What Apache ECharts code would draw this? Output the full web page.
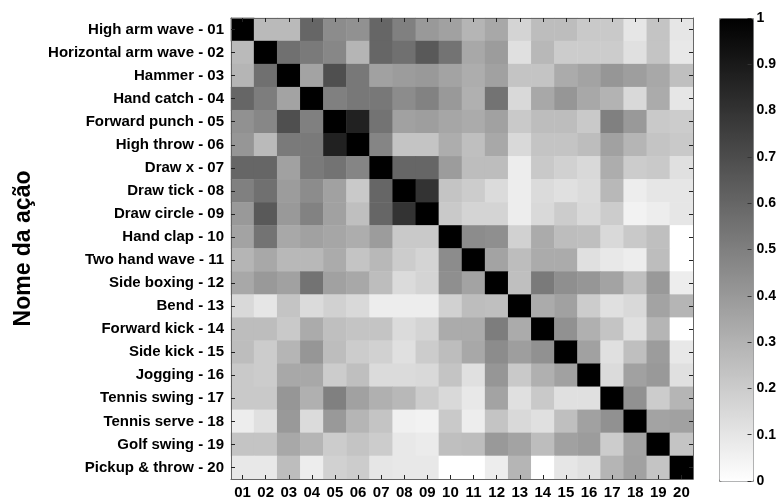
<!DOCTYPE html>
<html>
<head>
<meta charset="utf-8">
<script src="https://cdn.jsdelivr.net/npm/echarts@6/dist/echarts.min.js"></script>
<style>
  html, body { margin: 0; padding: 0; background: #fff; }
  #chart { width: 779px; height: 500px; }
</style>
</head>
<body>
<div id="chart"></div>
<script>
// Action names (rows, top to bottom) and column ids
const actionNames = [
  'High arm wave - 01', 'Horizontal arm wave - 02', 'Hammer - 03', 'Hand catch - 04',
  'Forward punch - 05', 'High throw - 06', 'Draw x - 07', 'Draw tick - 08',
  'Draw circle - 09', 'Hand clap - 10', 'Two hand wave - 11', 'Side boxing - 12',
  'Bend - 13', 'Forward kick - 14', 'Side kick - 15', 'Jogging - 16',
  'Tennis swing - 17', 'Tennis serve - 18', 'Golf swing - 19', 'Pickup & throw - 20'
];
const columnIds = ['01','02','03','04','05','06','07','08','09','10',
                   '11','12','13','14','15','16','17','18','19','20'];

// Similarity between actions, one row per action
const similarity = [
  [1.00, 0.27, 0.27, 0.60, 0.45, 0.43, 0.60, 0.50, 0.40, 0.37, 0.29, 0.34, 0.17, 0.26, 0.26, 0.21, 0.21, 0.10, 0.23, 0.10],
  [0.27, 1.00, 0.56, 0.52, 0.47, 0.29, 0.60, 0.56, 0.65, 0.55, 0.34, 0.39, 0.12, 0.28, 0.20, 0.20, 0.20, 0.12, 0.23, 0.09],
  [0.29, 0.56, 1.00, 0.36, 0.69, 0.53, 0.37, 0.39, 0.40, 0.36, 0.32, 0.37, 0.23, 0.23, 0.33, 0.36, 0.41, 0.38, 0.34, 0.25],
  [0.60, 0.51, 0.36, 1.00, 0.50, 0.53, 0.53, 0.45, 0.49, 0.40, 0.31, 0.55, 0.15, 0.34, 0.41, 0.34, 0.30, 0.15, 0.33, 0.10],
  [0.43, 0.47, 0.69, 0.50, 1.00, 0.87, 0.55, 0.37, 0.38, 0.35, 0.33, 0.37, 0.21, 0.26, 0.26, 0.21, 0.50, 0.40, 0.21, 0.20],
  [0.41, 0.27, 0.52, 0.52, 0.87, 1.00, 0.48, 0.23, 0.23, 0.32, 0.25, 0.34, 0.15, 0.23, 0.23, 0.26, 0.37, 0.29, 0.23, 0.21],
  [0.60, 0.60, 0.37, 0.52, 0.55, 0.48, 1.00, 0.60, 0.60, 0.39, 0.26, 0.26, 0.07, 0.21, 0.18, 0.15, 0.32, 0.20, 0.21, 0.12],
  [0.50, 0.56, 0.39, 0.45, 0.37, 0.21, 0.60, 1.00, 0.80, 0.23, 0.20, 0.14, 0.07, 0.14, 0.12, 0.14, 0.28, 0.07, 0.10, 0.10],
  [0.40, 0.65, 0.40, 0.49, 0.37, 0.25, 0.60, 0.80, 1.00, 0.21, 0.17, 0.17, 0.07, 0.15, 0.20, 0.15, 0.20, 0.05, 0.07, 0.10],
  [0.36, 0.55, 0.34, 0.37, 0.35, 0.32, 0.39, 0.21, 0.21, 1.00, 0.45, 0.44, 0.18, 0.33, 0.26, 0.25, 0.15, 0.21, 0.25, 0.00],
  [0.29, 0.34, 0.28, 0.28, 0.33, 0.23, 0.28, 0.20, 0.17, 0.45, 1.00, 0.36, 0.26, 0.33, 0.33, 0.12, 0.09, 0.07, 0.26, 0.00],
  [0.34, 0.40, 0.37, 0.55, 0.37, 0.34, 0.26, 0.14, 0.17, 0.44, 0.36, 1.00, 0.25, 0.52, 0.44, 0.41, 0.36, 0.25, 0.40, 0.07],
  [0.15, 0.10, 0.23, 0.14, 0.18, 0.15, 0.07, 0.07, 0.07, 0.18, 0.26, 0.25, 1.00, 0.33, 0.37, 0.20, 0.12, 0.15, 0.36, 0.29],
  [0.26, 0.26, 0.21, 0.33, 0.25, 0.23, 0.23, 0.14, 0.17, 0.33, 0.33, 0.51, 0.33, 1.00, 0.43, 0.31, 0.23, 0.12, 0.29, 0.00],
  [0.26, 0.20, 0.29, 0.41, 0.26, 0.20, 0.18, 0.12, 0.20, 0.26, 0.34, 0.45, 0.38, 0.43, 1.00, 0.37, 0.12, 0.25, 0.39, 0.09],
  [0.21, 0.20, 0.34, 0.34, 0.20, 0.25, 0.14, 0.14, 0.15, 0.23, 0.12, 0.41, 0.21, 0.31, 0.37, 1.00, 0.14, 0.37, 0.40, 0.12],
  [0.21, 0.21, 0.41, 0.31, 0.50, 0.37, 0.31, 0.28, 0.20, 0.15, 0.09, 0.36, 0.12, 0.21, 0.12, 0.12, 1.00, 0.43, 0.20, 0.29],
  [0.07, 0.12, 0.40, 0.14, 0.40, 0.29, 0.23, 0.06, 0.05, 0.21, 0.07, 0.23, 0.15, 0.12, 0.25, 0.37, 0.43, 1.00, 0.36, 0.37],
  [0.23, 0.23, 0.34, 0.29, 0.20, 0.23, 0.20, 0.09, 0.08, 0.25, 0.26, 0.40, 0.36, 0.26, 0.37, 0.39, 0.20, 0.36, 1.00, 0.23],
  [0.09, 0.09, 0.26, 0.07, 0.18, 0.20, 0.10, 0.09, 0.09, 0.00, 0.00, 0.07, 0.29, 0.00, 0.10, 0.12, 0.29, 0.37, 0.23, 1.00]
];

// Colour scale range and its tick step
const scaleMin = 0;
const scaleMax = 1;
const scaleStep = 0.1;

const cells = [];
similarity.forEach((row, r) => row.forEach((v, c) => cells.push([c, r, v])));

const FONT = '"Liberation Sans", Arial, Helvetica, sans-serif';
const frameLine = { show: true, onZero: false, lineStyle: { color: '#666', width: 1 } };
const innerTicks = { show: true, inside: true, alignWithLabel: true, length: 4, lineStyle: { color: '#222', width: 1 } };

const chart = echarts.init(document.getElementById('chart'), null, { renderer: 'canvas' });

chart.setOption({
  animation: false,
  backgroundColor: '#fff',
  textStyle: { fontFamily: FONT },
  grid: [
    { left: 231, top: 18, width: 462, height: 463 },
    { left: 719, top: 18, width: 34, height: 463 }
  ],
  xAxis: [
    {
      type: 'category', gridIndex: 0, data: columnIds, position: 'bottom', z: 3,
      axisLine: frameLine, axisTick: innerTicks, splitLine: { show: false },
      axisLabel: { color: '#000', fontWeight: 'bold', fontSize: 15, margin: 6, fontFamily: FONT, interval: 0 }
    },
    {
      type: 'category', gridIndex: 0, data: columnIds, position: 'top', z: 3,
      axisLine: frameLine, axisTick: innerTicks, axisLabel: { show: false }, splitLine: { show: false }
    },
    {
      type: 'value', gridIndex: 1, min: 0, max: 1,
      axisLine: { show: false, onZero: false }, axisTick: { show: false },
      axisLabel: { show: false }, splitLine: { show: false }
    }
  ],
  yAxis: [
    {
      type: 'category', gridIndex: 0, data: actionNames, inverse: true, position: 'left', z: 3,
      axisLine: frameLine, axisTick: innerTicks, splitLine: { show: false },
      axisLabel: { color: '#000', fontWeight: 'bold', fontSize: 15, margin: 7, fontFamily: FONT, interval: 0 },
      name: 'Nome da ação', nameLocation: 'middle', nameRotate: 90, nameGap: 196,
      nameTextStyle: { color: '#000', fontWeight: 'bold', fontSize: 23, fontFamily: FONT }
    },
    {
      type: 'category', gridIndex: 0, data: actionNames, inverse: true, position: 'right', z: 3,
      axisLine: frameLine, axisTick: innerTicks, axisLabel: { show: false }, splitLine: { show: false }
    },
    {
      type: 'value', gridIndex: 1, min: scaleMin, max: scaleMax, interval: scaleStep, position: 'right', z: 6,
      axisLine: { show: false, onZero: false }, splitLine: { show: false },
      axisTick: { show: true, inside: true, length: 4, lineStyle: { color: '#333', width: 1 } },
      axisLabel: { color: '#000', fontWeight: 'bold', fontSize: 14, margin: 5, fontFamily: FONT }
    }
  ],
  visualMap: {
    type: 'continuous', min: scaleMin, max: scaleMax, seriesIndex: 0,
    calculable: false, hoverLink: false, orient: 'vertical',
    left: 719, top: 18, itemWidth: 34, itemHeight: 463, padding: 0,
    borderColor: '#888', borderWidth: 1,
    inRange: { color: ['#ffffff', '#000000'] }
  },
  series: [{
    type: 'heatmap', xAxisIndex: 0, yAxisIndex: 0, data: cells,
    itemStyle: { borderWidth: 0 },
    emphasis: { disabled: true },
    label: { show: false }
  }]
});
</script>
</body>
</html>
